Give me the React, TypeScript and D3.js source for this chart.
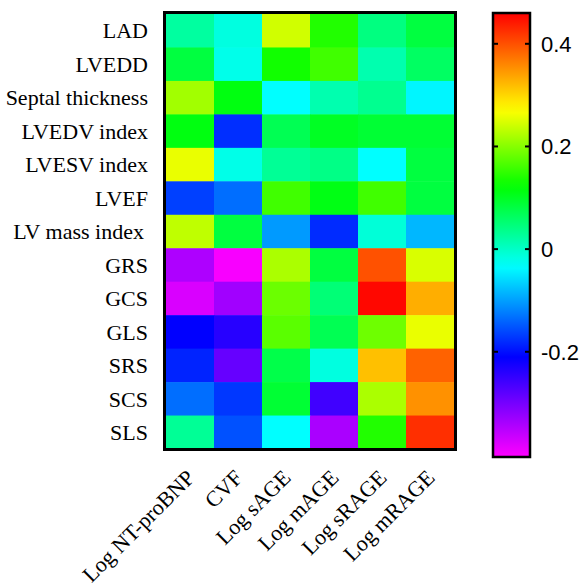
import React from "react";
import * as d3 from "d3";

const rows = ["LAD","LVEDD","Septal thickness","LVEDV index","LVESV index","LVEF","LV mass index","GRS","GCS","GLS","SRS","SCS","SLS"];
const cols = ["Log NT-proBNP","CVF","Log sAGE","Log mAGE","Log sRAGE","Log mRAGE"];

const vLAD = [0.024,-0.015,0.243,0.141,0.044,0.083];
const vLVEDD = [0.083,-0.021,0.132,0.159,0.015,0.062];
const vSeptal = [0.216,0.112,-0.034,0.015,0.034,-0.04];
const vLVEDV = [0.112,-0.178,0.071,0.10,0.09,0.09];
const vLVESV = [0.258,-0.02,0.03,0.04,-0.034,0.083];
const vLVEF = [-0.166,-0.134,0.159,0.11,0.159,0.083];
const vLVMass = [0.233,0.083,-0.104,-0.18,-0.01,-0.084];
const vGRS = [-0.343,-0.40,0.221,0.083,0.40,0.248];
const vGCS = [-0.376,-0.333,0.184,0.05,0.455,0.33];
const vGLS = [-0.21,-0.24,0.174,0.071,0.186,0.258];
const vSRS = [-0.186,-0.288,0.077,-0.015,0.317,0.387];
const vSCS = [-0.134,-0.172,0.09,-0.259,0.221,0.352];
const vSLS = [0.03,-0.154,-0.034,-0.34,0.141,0.425];

const values = [vLAD,vLVEDD,vSeptal,vLVEDV,vLVESV,vLVEF,vLVMass,vGRS,vGCS,vGLS,vSRS,vSCS,vSLS];

const colorStops = [-0.405,-0.21,-0.034,0.122,0.27,0.46];
const colorRange = ["#ff00ff","#0000ff","#00ffff","#00ff00","#ffff00","#ff0000"];
const cbTicks = [-0.2,0,0.2,0.4];

export default function App() {
  const color = d3.scaleLinear<string>().domain(colorStops).range(colorRange).clamp(true);
  const x = d3.scaleBand<string>().domain(cols).range([166, 454]);
  const y = d3.scaleBand<string>().domain(rows).range([14, 449]);
  const cbY = d3.scaleLinear().domain([colorStops[0], colorStops[colorStops.length - 1]]).range([457, 13]);
  const cbX0 = 493, cbX1 = 530;
  const gradStops = d3.range(0, 41).map(i => i / 40);
  const serif = "'Liberation Serif', 'Times New Roman', serif";
  const sans = "'Liberation Sans', Arial, sans-serif";
  return (
    <svg width={585} height={586} style={{ position: "absolute", left: 0, top: 0 }}>
      <defs>
        <linearGradient id="cbgrad" x1="0" y1="1" x2="0" y2="0">
          {gradStops.map(t => {
            const v = colorStops[0] + t * (colorStops[colorStops.length - 1] - colorStops[0]);
            return <stop key={t} offset={t} stopColor={color(v)} />;
          })}
        </linearGradient>
      </defs>
      {rows.map((r, i) =>
        cols.map((c, j) => (
          <rect key={r + c} x={x(c)} y={y(r)} width={x.bandwidth() + 0.5} height={y.bandwidth() + 0.5} fill={color(values[i][j])} />
        ))
      )}
      <rect x={164.5} y={12.5} width={291} height={437} fill="none" stroke="#000" strokeWidth={3} />
      {rows.map(r => (
        <text key={r} x={r === "LV mass index" ? 144 : 148} y={(y(r) as number) + y.bandwidth() / 2} dy="0.35em" textAnchor="end" fontFamily={serif} fontSize={22} fill="#000">{r}</text>
      ))}
      {cols.map(c => {
        const cx = (x(c) as number) + x.bandwidth() / 2 + 6;
        const cy = 479;
        return (
          <text key={c} x={cx} y={cy} textAnchor="end" transform={`rotate(-45 ${cx} ${cy})`} fontFamily={serif} fontSize={22} fill="#000">{c}</text>
        );
      })}
      <rect x={cbX0} y={13} width={cbX1 - cbX0} height={444} fill="url(#cbgrad)" stroke="#000" strokeWidth={2.5} />
      {cbTicks.map(t => (
        <g key={t}>
          <line x1={cbX0} x2={cbX0 + 5} y1={cbY(t)} y2={cbY(t)} stroke="#000" strokeWidth={2} />
          <line x1={cbX1 - 5} x2={cbX1} y1={cbY(t)} y2={cbY(t)} stroke="#000" strokeWidth={2} />
          <text x={541} y={cbY(t)} dy="0.36em" fontFamily={sans} fontSize={22} fill="#000">{t === 0 ? "0" : String(t)}</text>
        </g>
      ))}
    </svg>
  );
}
